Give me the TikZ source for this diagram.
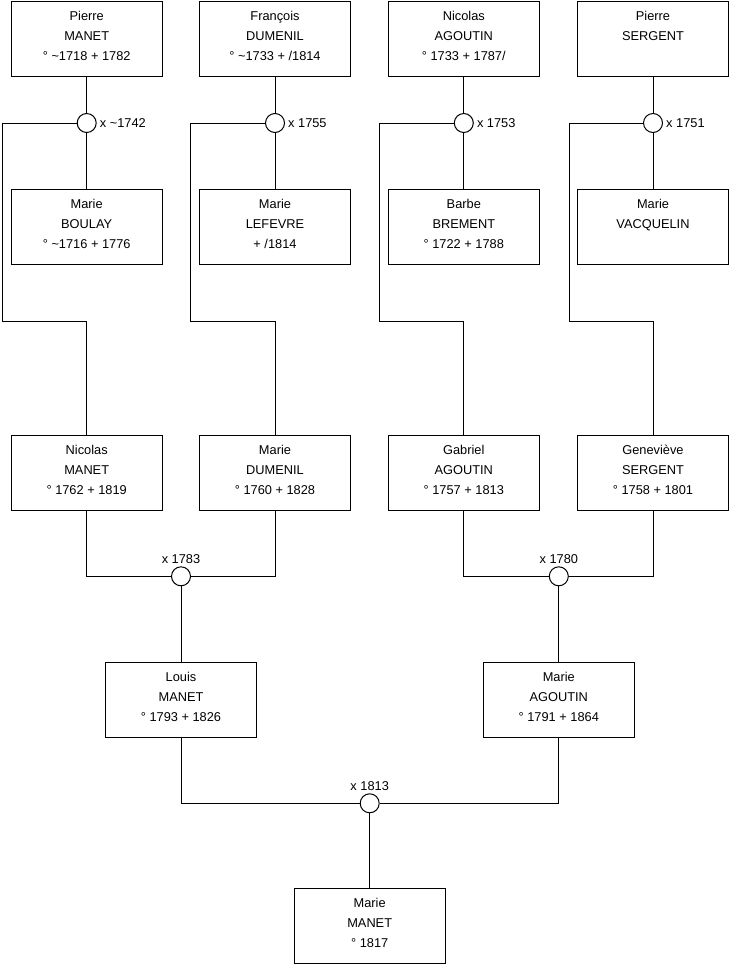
\documentclass[tikz,border=0pt]{standalone}
\usepackage{fontspec}
\setmainfont{Liberation Sans}
\newcommand{\tl}{\textasciitilde}
\newcommand{\dn}{\rule[-6pt]{0pt}{0pt}}
\begin{document}
\begin{tikzpicture}[x=1pt,y=-1pt,
  person/.style={draw=black, line width=1pt, fill=white, rectangle, minimum width=151pt, minimum height=75pt,
    align=center, font=\fontsize{12.8}{20}\selectfont, text=black, inner sep=0pt},
  union/.style={draw=black, line width=1pt, fill=white, circle, minimum size=19pt, inner sep=0pt},
  ulab/.style={font=\fontsize{12.8}{15}\selectfont, text=black},
  link/.style={draw=black, line width=1pt}]
\useasboundingbox (0,0) rectangle (740,975);
% row 1
\node[person] (p1) at (86.7,38.5) {Pierre\\MANET\\° \tl1718 + 1782\dn};
\node[person] (p2) at (275,38.5) {François\\DUMENIL\\° \tl1733 + /1814\dn};
\node[person] (p3) at (463.8,38.5) {Nicolas\\AGOUTIN\\° 1733 + 1787/\dn};
\node[person] (p4) at (653,38.5) {Pierre\\SERGENT\\\dn};
% row 2
\node[person] (s1) at (86.7,227) {Marie\\BOULAY\\° \tl1716 + 1776\dn};
\node[person] (s2) at (275,227) {Marie\\LEFEVRE\\+ /1814\dn};
\node[person] (s3) at (463.8,227) {Barbe\\BREMENT\\° 1722 + 1788\dn};
\node[person] (s4) at (653,227) {Marie\\VACQUELIN\\\dn};
% unions row 1
\node[union, label={[ulab, anchor=west, inner sep=3pt]east:x \tl1742}] (u1) at (86.7,123) {};
\node[union, label={[ulab, anchor=west, inner sep=3pt]east:x 1755}] (u2) at (275,123) {};
\node[union, label={[ulab, anchor=west, inner sep=3pt]east:x 1753}] (u3) at (463.8,123) {};
\node[union, label={[ulab, anchor=west, inner sep=3pt]east:x 1751}] (u4) at (653,123) {};
% row 3
\node[person] (c1) at (86.7,472.5) {Nicolas\\MANET\\° 1762 + 1819\dn};
\node[person] (c2) at (275,472.5) {Marie\\DUMENIL\\° 1760 + 1828\dn};
\node[person] (c3) at (463.8,472.5) {Gabriel\\AGOUTIN\\° 1757 + 1813\dn};
\node[person] (c4) at (653,472.5) {Geneviève\\SERGENT\\° 1758 + 1801\dn};
% unions row 3
\node[union, label={[ulab, anchor=south, inner sep=2pt]north:x 1783}] (v1) at (181,576.3) {};
\node[union, label={[ulab, anchor=south, inner sep=2pt]north:x 1780}] (v2) at (558.8,576.3) {};
% row 4
\node[person] (g1) at (181,699.7) {Louis\\MANET\\° 1793 + 1826\dn};
\node[person] (g2) at (558.8,699.7) {Marie\\AGOUTIN\\° 1791 + 1864\dn};
\node[union, label={[ulab, anchor=south, inner sep=2pt]north:x 1813}] (w1) at (369.7,803.3) {};
% row 5
\node[person] (f1) at (369.7,926.2) {Marie\\MANET\\° 1817\dn};
% turning points
\coordinate (k1) at (2.5,321);
\coordinate (k2) at (190.5,321);
\coordinate (k3) at (379,321);
\coordinate (k4) at (569.3,321);
% connectors top couples
\foreach \i in {1,2,3,4}{
  \draw[link] (p\i.south) -- (u\i.north);
  \draw[link] (u\i.south) -- (s\i.north);
  \draw[link] (u\i.west) -| (k\i) -- (k\i -| c\i.north) -- (c\i.north);
}
\draw[link] (c1.south) |- (v1.west);
\draw[link] (c2.south) |- (v1.east);
\draw[link] (v1.south) -- (g1.north);
\draw[link] (c3.south) |- (v2.west);
\draw[link] (c4.south) |- (v2.east);
\draw[link] (v2.south) -- (g2.north);
\draw[link] (g1.south) |- (w1.west);
\draw[link] (g2.south) |- (w1.east);
\draw[link] (w1.south) -- (f1.north);
\end{tikzpicture}
\end{document}
